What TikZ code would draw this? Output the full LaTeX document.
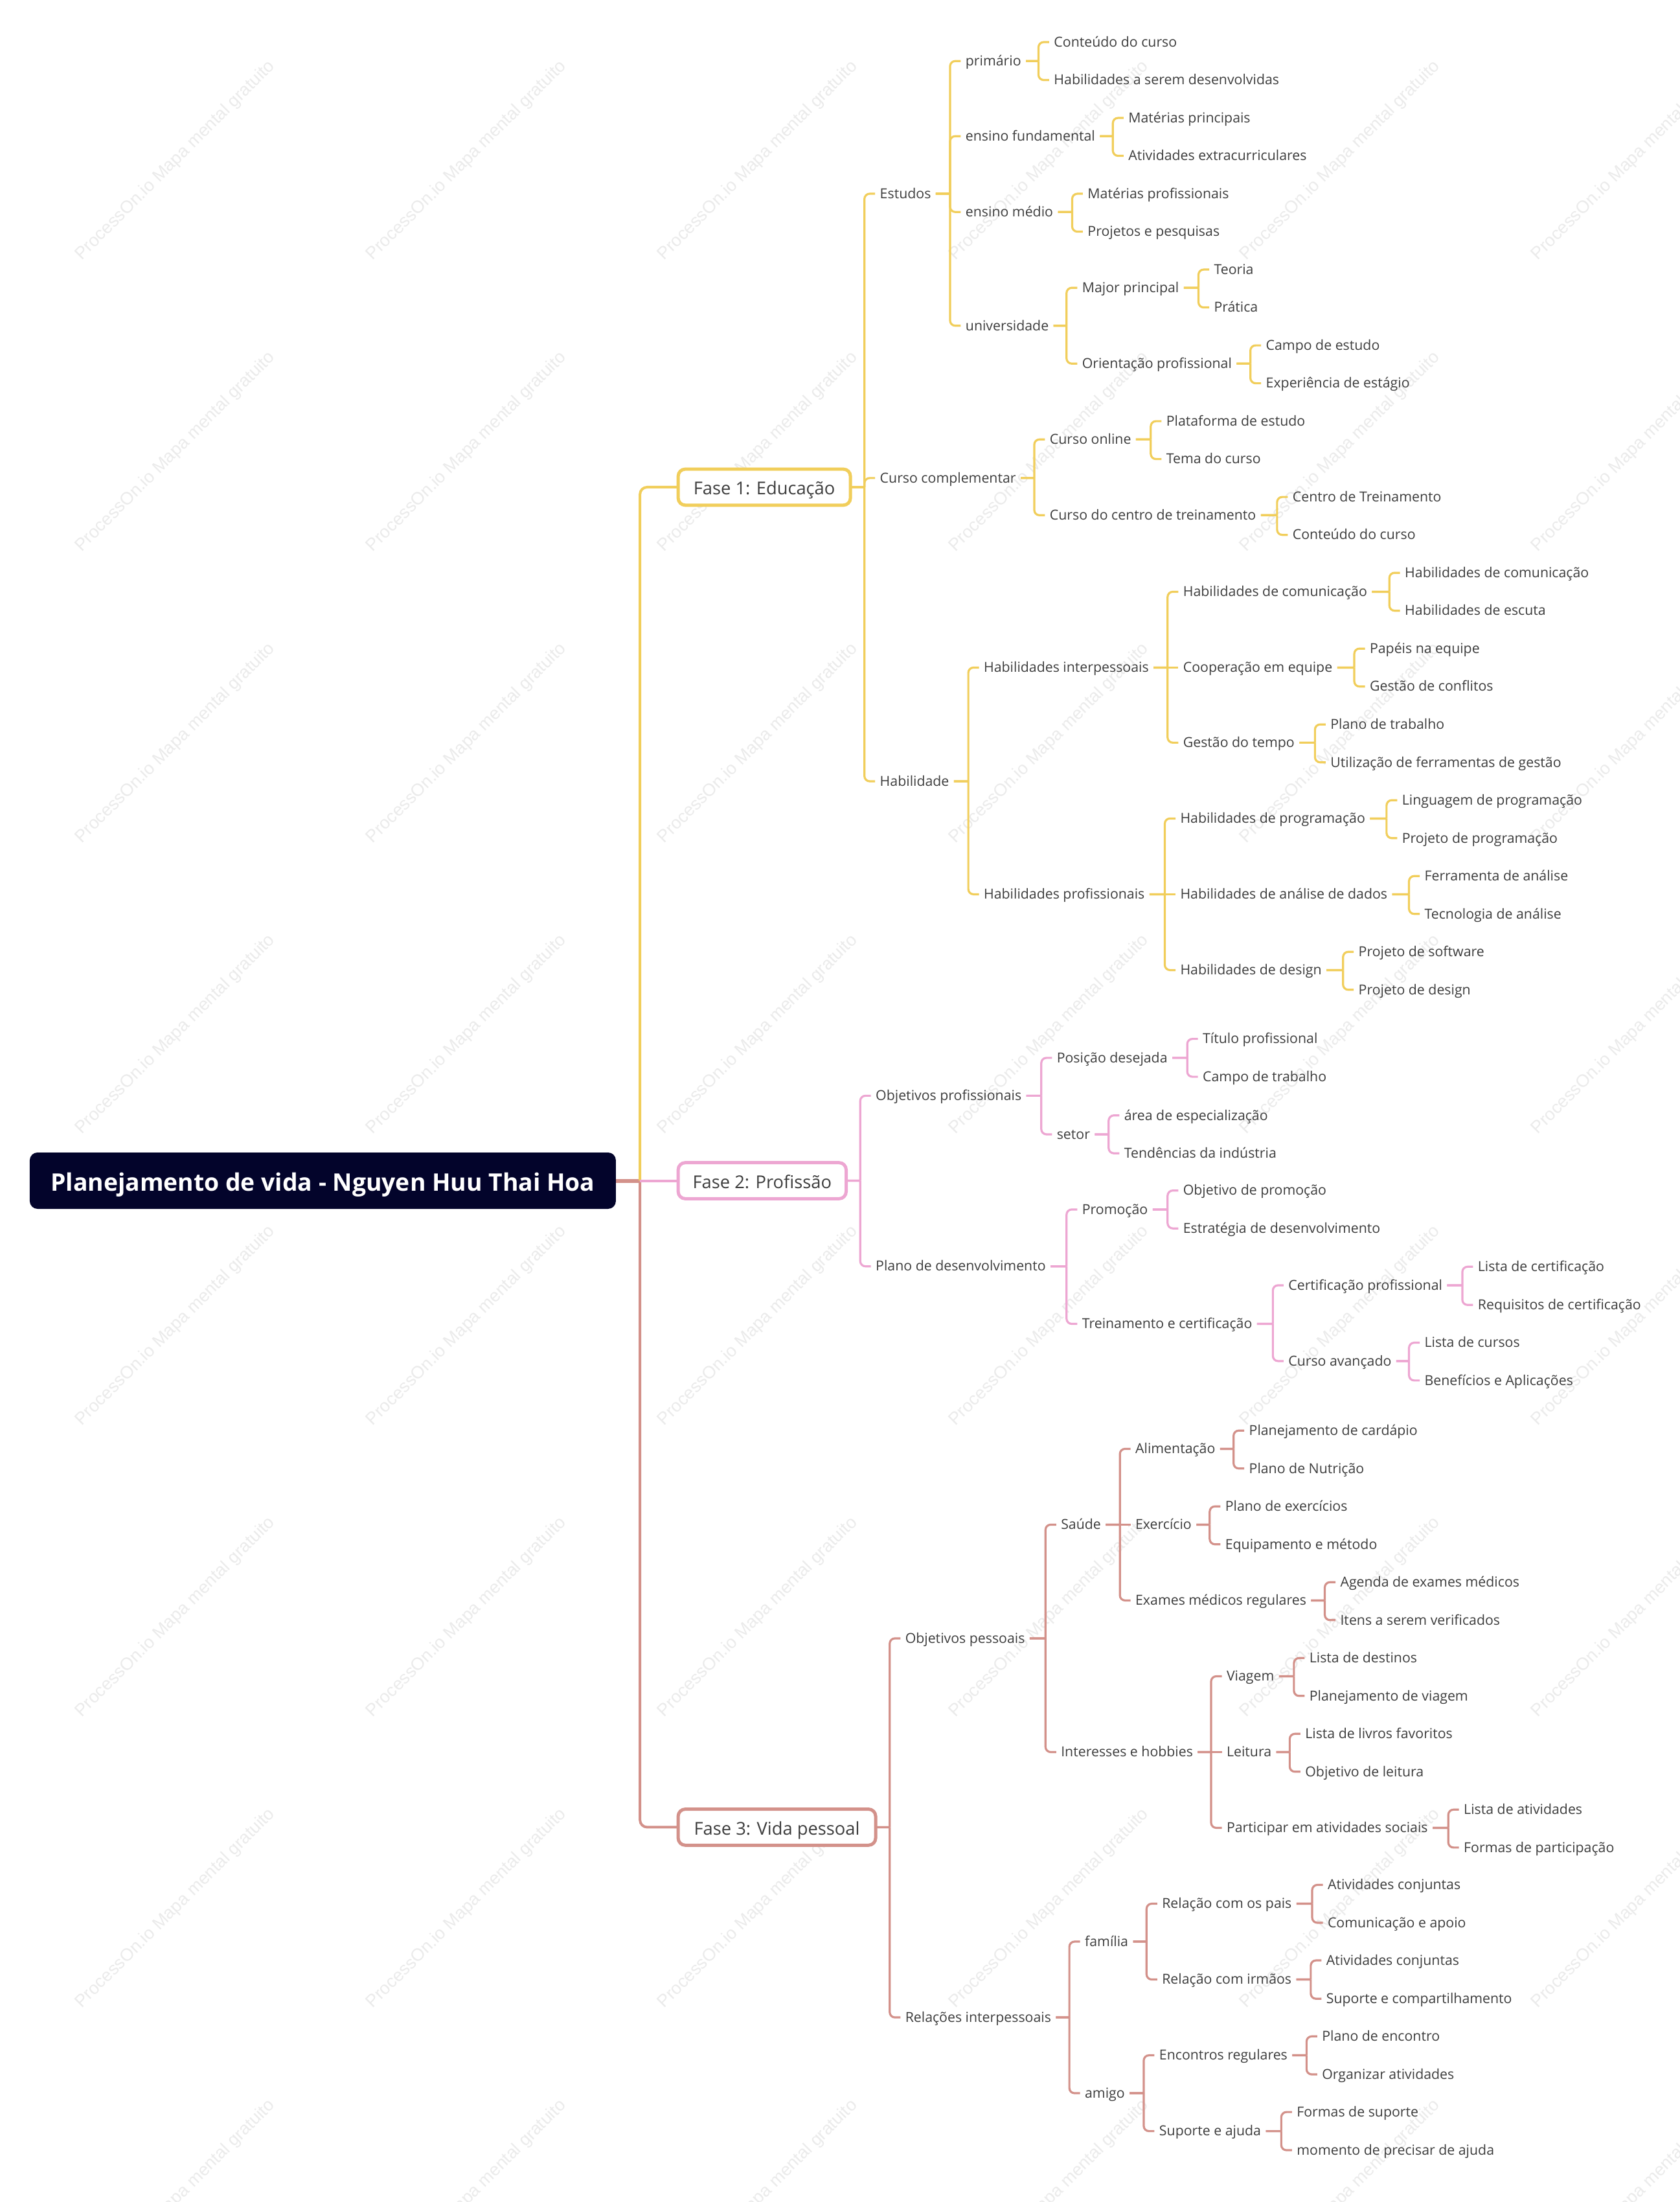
\documentclass[tikz,border=0pt]{standalone}
\usepackage{fontspec}
\setmainfont{Open Sans}
\newfontfamily\wmfont{Liberation Sans}
\usetikzlibrary{calc}
\definecolor{yel}{HTML}{F1CE5B}
\definecolor{pnk}{HTML}{EDA6D2}
\definecolor{ros}{HTML}{D3918A}
\definecolor{navy}{HTML}{03042B}
\definecolor{txt}{HTML}{3D3D3D}
\definecolor{wmc}{HTML}{EBEBEB}
\tikzset{
  t/.style={anchor=west, xshift=-7.5pt, inner xsep=7.5pt, inner ysep=0pt, outer sep=0pt,
    text height=17pt, text depth=2.4pt, text=txt, font=\fontsize{21.3}{25}\selectfont},
  fase/.style={anchor=west, draw=#1, line width=5pt, fill=white, rounded corners=11pt,
    minimum height=55.7pt, inner xsep=0pt, outer sep=0pt, text=txt,
    text height=26pt, text depth=2.6pt, font=\fontsize{27.3}{32}\selectfont},
  lnk/.style={line width=3.2pt, rounded corners=8pt},
  trunk/.style={line width=4pt, rounded corners=11pt},
  wmk/.style={text=wmc, rotate=45, font=\wmfont\fontsize{27}{30}\selectfont},
}
\newcommand\cnx[3]{\draw[lnk,#1] let \p1=(#3.west), \p2=(#2.east) in (\p2) -- (\x1-16.5pt,\y2) (\x1-16.5pt,\y2) |- (\p1);}
\newcommand\cnxs[3]{\draw[lnk,#1] (#2.east) -- (#3.west);}
\begin{document}
\begin{tikzpicture}[x=2.1671pt, y=-2.1671pt]
\useasboundingbox (0,0) rectangle (1197,1568.5);
\fill[white] (0,0) rectangle (1197,1568.5);
% watermark
\foreach \i in {0,...,5}{\foreach \j in {0,...,7}{
  \node[wmk] (w\i\j) at (125+207.5*\i, 114.5+207.5*\j) {ProcessOn.io Mapa mental gratuito};}}
% root
\node[fill=navy, rounded corners=12pt, minimum width=905pt, minimum height=87pt, inner sep=0pt,
  text=white, text height=34pt, text depth=2.4pt, font=\bfseries\fontsize{37.3}{41}\selectfont]
  (root) at (230,841) {Planejamento de vida - Nguyen Huu Thai Hoa};
\coordinate (J) at (456,841);
\node[fase=yel, minimum width=266pt] (f1) at (483.2,347) {Fase 1: Educação};
\node[fase=pnk, minimum width=259.4pt] (f2) at (483.2,841) {Fase 2: Profissão};
\node[fase=ros, minimum width=304.9pt] (f3) at (483.2,1301.5) {Fase 3: Vida pessoal};
\draw[ros, line width=6pt] (root.east) -- (J);
\draw[trunk, yel] (J) |- (f1.west);
\draw[trunk, ros] (J) |- (f3.west);
\draw[trunk, pnk] (J) -- (f2.west);
% ---------- Fase 1
\node[t] (a1) at (627,138) {Estudos};
\node[t] (a2) at (627,340.5) {Curso complementar};
\node[t] (a3) at (627,556.5) {Habilidade};
\node[t] (a11) at (688,43.5) {primário};
\node[t] (a12) at (688,97) {ensino fundamental};
\node[t] (a13) at (688,151) {ensino médio};
\node[t] (a14) at (688,232) {universidade};
\node[t] (a111) at (751,30) {Conteúdo do curso};
\node[t] (a112) at (751,57) {Habilidades a serem desenvolvidas};
\node[t] (a121) at (804,84) {Matérias principais};
\node[t] (a122) at (804,111) {Atividades extracurriculares};
\node[t] (a131) at (775,138) {Matérias profissionais};
\node[t] (a132) at (775,165) {Projetos e pesquisas};
\node[t] (a141) at (771,205) {Major principal};
\node[t] (a142) at (771,259) {Orientação profissional};
\node[t] (a1411) at (865,192) {Teoria};
\node[t] (a1412) at (865,219) {Prática};
\node[t] (a1421) at (902,246) {Campo de estudo};
\node[t] (a1422) at (902,273) {Experiência de estágio};
\node[t] (a21) at (748,313) {Curso online};
\node[t] (a22) at (748,367) {Curso do centro de treinamento};
\node[t] (a211) at (831,300) {Plataforma de estudo};
\node[t] (a212) at (831,327) {Tema do curso};
\node[t] (a221) at (921,354) {Centro de Treinamento};
\node[t] (a222) at (921,381) {Conteúdo do curso};
\node[t] (a31) at (701,475.5) {Habilidades interpessoais};
\node[t] (a32) at (701,637) {Habilidades profissionais};
\node[t] (a311) at (843,421.5) {Habilidades de comunicação};
\node[t] (a312) at (843,475.5) {Cooperação em equipe};
\node[t] (a313) at (843,529) {Gestão do tempo};
\node[t] (a3111) at (1001,408) {Habilidades de comunicação};
\node[t] (a3112) at (1001,435) {Habilidades de escuta};
\node[t] (a3121) at (976,462) {Papéis na equipe};
\node[t] (a3122) at (976,489) {Gestão de conflitos};
\node[t] (a3131) at (948,516) {Plano de trabalho};
\node[t] (a3132) at (948,543) {Utilização de ferramentas de gestão};
\node[t] (a321) at (841,583) {Habilidades de programação};
\node[t] (a322) at (841,637) {Habilidades de análise de dados};
\node[t] (a323) at (841,691) {Habilidades de design};
\node[t] (a3211) at (999,570) {Linguagem de programação};
\node[t] (a3212) at (999,597) {Projeto de programação};
\node[t] (a3221) at (1015,624) {Ferramenta de análise};
\node[t] (a3222) at (1015,651) {Tecnologia de análise};
\node[t] (a3231) at (968,678) {Projeto de software};
\node[t] (a3232) at (968,705) {Projeto de design};
\foreach \pa/\ch in {f1/a1,f1/a2,f1/a3,a1/a11,a1/a12,a1/a13,a1/a14,a11/a111,a11/a112,a12/a121,a12/a122,
  a13/a131,a13/a132,a14/a141,a14/a142,a141/a1411,a141/a1412,a142/a1421,a142/a1422,a2/a21,a2/a22,
  a21/a211,a21/a212,a22/a221,a22/a222,a3/a31,a3/a32,a31/a311,a31/a313,a311/a3111,a311/a3112,
  a312/a3121,a312/a3122,a313/a3131,a313/a3132,a32/a321,a32/a323,a321/a3211,a321/a3212,
  a322/a3221,a322/a3222,a323/a3231,a323/a3232}{\cnx{yel}{\pa}{\ch}}
\cnxs{yel}{a31}{a312}
\cnxs{yel}{a32}{a322}
% ---------- Fase 2
\node[t] (b1) at (624,780.5) {Objetivos profissionais};
\node[t] (b2) at (624,902) {Plano de desenvolvimento};
\node[t] (b11) at (753,753.5) {Posição desejada};
\node[t] (b12) at (753,808) {setor};
\node[t] (b111) at (857,740) {Título profissional};
\node[t] (b112) at (857,767) {Campo de trabalho};
\node[t] (b121) at (801,794.5) {área de especialização};
\node[t] (b122) at (801,821.5) {Tendências da indústria};
\node[t] (b21) at (771,861.5) {Promoção};
\node[t] (b22) at (771,943) {Treinamento e certificação};
\node[t] (b211) at (843,848) {Objetivo de promoção};
\node[t] (b212) at (843,875) {Estratégia de desenvolvimento};
\node[t] (b221) at (918,915.5) {Certificação profissional};
\node[t] (b222) at (918,969.5) {Curso avançado};
\node[t] (b2211) at (1053,902.3) {Lista de certificação};
\node[t] (b2212) at (1053,929.5) {Requisitos de certificação};
\node[t] (b2221) at (1015,956.4) {Lista de cursos};
\node[t] (b2222) at (1015,983.3) {Benefícios e Aplicações};
\foreach \pa/\ch in {f2/b1,f2/b2,b1/b11,b1/b12,b11/b111,b11/b112,b12/b121,b12/b122,b2/b21,b2/b22,
  b21/b211,b21/b212,b22/b221,b22/b222,b221/b2211,b221/b2212,b222/b2221,b222/b2222}{\cnx{pnk}{\pa}{\ch}}
% ---------- Fase 3
\node[t] (c1) at (645,1167) {Objetivos pessoais};
\node[t] (c2) at (645,1437) {Relações interpessoais};
\node[t] (c11) at (756,1086) {Saúde};
\node[t] (c12) at (756,1248) {Interesses e hobbies};
\node[t] (c111) at (809,1032) {Alimentação};
\node[t] (c112) at (809,1086) {Exercício};
\node[t] (c113) at (809,1140) {Exames médicos regulares};
\node[t] (c1111) at (890,1019) {Planejamento de cardápio};
\node[t] (c1112) at (890,1046) {Plano de Nutrição};
\node[t] (c1121) at (873,1073) {Plano de exercícios};
\node[t] (c1122) at (873,1100) {Equipamento e método};
\node[t] (c1131) at (955,1127) {Agenda de exames médicos};
\node[t] (c1132) at (955,1154) {Itens a serem verificados};
\node[t] (c121) at (874,1194) {Viagem};
\node[t] (c122) at (874,1248) {Leitura};
\node[t] (c123) at (874,1302) {Participar em atividades sociais};
\node[t] (c1211) at (933,1181) {Lista de destinos};
\node[t] (c1212) at (933,1208) {Planejamento de viagem};
\node[t] (c1221) at (930,1235) {Lista de livros favoritos};
\node[t] (c1222) at (930,1262) {Objetivo de leitura};
\node[t] (c1231) at (1043,1289) {Lista de atividades};
\node[t] (c1232) at (1043,1316) {Formas de participação};
\node[t] (c21) at (773,1383) {família};
\node[t] (c22) at (773,1491) {amigo};
\node[t] (c211) at (828,1356) {Relação com os pais};
\node[t] (c212) at (828,1410) {Relação com irmãos};
\node[t] (c2111) at (946,1342.6) {Atividades conjuntas};
\node[t] (c2112) at (946,1369.6) {Comunicação e apoio};
\node[t] (c2121) at (945,1396.4) {Atividades conjuntas};
\node[t] (c2122) at (945,1423.7) {Suporte e compartilhamento};
\node[t] (c221) at (826,1464) {Encontros regulares};
\node[t] (c222) at (826,1518) {Suporte e ajuda};
\node[t] (c2211) at (942,1450.5) {Plano de encontro};
\node[t] (c2212) at (942,1477.6) {Organizar atividades};
\node[t] (c2221) at (924,1504.4) {Formas de suporte};
\node[t] (c2222) at (924,1531.6) {momento de precisar de ajuda};
\foreach \pa/\ch in {f3/c1,f3/c2,c1/c11,c1/c12,c11/c111,c11/c113,c111/c1111,c111/c1112,
  c112/c1121,c112/c1122,c113/c1131,c113/c1132,c12/c121,c12/c123,c121/c1211,c121/c1212,
  c122/c1221,c122/c1222,c123/c1231,c123/c1232,c2/c21,c2/c22,c21/c211,c21/c212,
  c211/c2111,c211/c2112,c212/c2121,c212/c2122,c22/c221,c22/c222,c221/c2211,c221/c2212,
  c222/c2221,c222/c2222}{\cnx{ros}{\pa}{\ch}}
\cnxs{ros}{c11}{c112}
\cnxs{ros}{c12}{c122}
\end{tikzpicture}
\end{document}
